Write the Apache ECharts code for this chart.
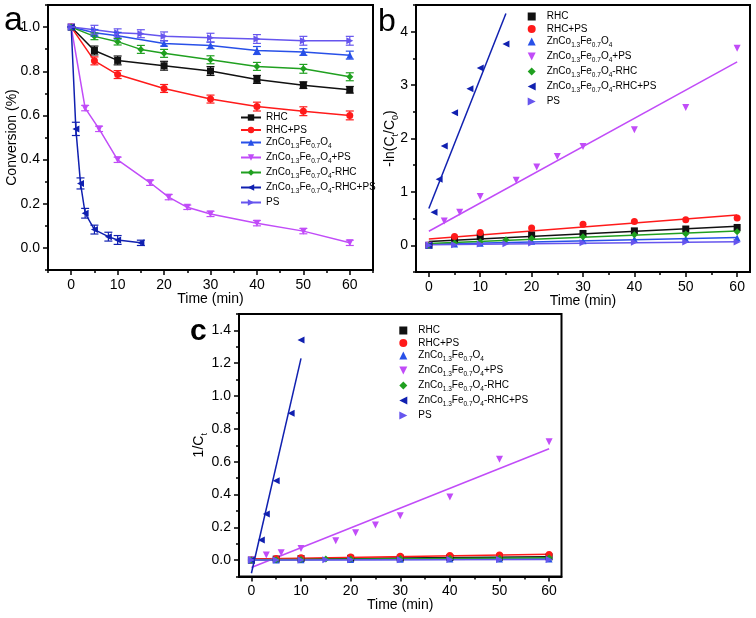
<!DOCTYPE html>
<html><head><meta charset="utf-8">
<script src="https://cdn.jsdelivr.net/npm/echarts@6/dist/echarts.min.js"></script>
<style>html,body{margin:0;padding:0;background:#fff}#chart{width:756px;height:618px}</style>
</head><body><div id="chart"></div>
<script>
// ---------- DATA ----------
const seriesNames = ['RHC','RHC+PS','ZnCo1.3Fe0.7O4','ZnCo1.3Fe0.7O4+PS','ZnCo1.3Fe0.7O4-RHC','ZnCo1.3Fe0.7O4-RHC+PS','PS'];

// sampling times (min)
const tRHC     = [0,5,10,20,30,40,50,60];
const tRHCPS   = [0,5,10,20,30,40,50,60];
const tZn      = [0,5,10,20,30,40,50,60];
const tZnPS    = [0,3,6,10,17,21,25,30,40,50,60];
const tZnRHC   = [0,5,10,15,20,30,40,50,60];
const tZnRHCPS = [0,1,2,3,5,8,10,15];
const tPS      = [0,5,10,15,20,30,40,50,60];
const tC_ZnRHCPS = [0,2,3,5,8,10];

// panel a: conversion C/C0
const convRHC     = [1.0,0.894,0.849,0.825,0.801,0.763,0.737,0.716];
const convRHCPS   = [1.0,0.847,0.785,0.722,0.674,0.640,0.619,0.600];
const convZn      = [1.0,0.974,0.961,0.926,0.917,0.894,0.887,0.873];
const convZnPS    = [1.0,0.633,0.539,0.399,0.295,0.230,0.184,0.154,0.112,0.076,0.023];
const convZnRHC   = [1.0,0.958,0.934,0.899,0.881,0.852,0.822,0.811,0.775];
const convZnRHCPS = [1.0,0.539,0.292,0.157,0.083,0.051,0.036,0.023];
const convPS      = [1.0,0.988,0.974,0.970,0.958,0.952,0.946,0.938,0.938];

// panel a: error bars (+/-)
const errRHC     = [0,0.02,0.02,0.02,0.02,0.018,0.015,0.015];
const errRHCPS   = [0,0.018,0.018,0.018,0.018,0.02,0.02,0.02];
const errZn      = [0,0.015,0.015,0.012,0.015,0.018,0.015,0.018];
const errZnPS    = [0,0.012,0.012,0.012,0.012,0.012,0.01,0.012,0.012,0.012,0.012];
const errZnRHC   = [0,0.015,0.015,0.018,0.018,0.018,0.018,0.02,0.018];
const errZnRHCPS = [0,0.03,0.025,0.022,0.02,0.02,0.02,0.012];
const errPS      = [0,0.02,0.018,0.018,0.02,0.02,0.02,0.02,0.02];

// panel b: -ln(Ct/C0)
const lnRHC     = [0,0.112,0.164,0.192,0.222,0.27,0.305,0.334];
const lnRHCPS   = [0,0.166,0.242,0.326,0.395,0.446,0.48,0.51];
const lnZn      = [0,0.026,0.04,0.077,0.087,0.112,0.12,0.136];
const lnZnPS    = [0,0.457,0.618,0.915,1.22,1.465,1.665,1.85,2.165,2.58,3.69];
const lnZnRHC   = [0,0.043,0.068,0.106,0.127,0.16,0.196,0.21,0.255];
const lnZnRHCPS = [0,0.62,1.235,1.86,2.48,2.93,3.32,3.77];
const lnPS      = [0,0.012,0.026,0.03,0.043,0.049,0.055,0.064,0.064];
// panel b: fitted lines [x0, y0, x1, y1]
const fitB_RHC     = [0,0.073,60,0.356];
const fitB_RHCPS   = [0,0.119,60,0.569];
const fitB_Zn      = [0,0.018,60,0.146];
const fitB_ZnPS    = [0,0.263,60,3.436];
const fitB_ZnRHC   = [0,0.035,60,0.27];
const fitB_ZnRHCPS = [0,0.69,15,4.34];
const fitB_PS      = [0,0.01,60,0.068];

// panel c: 1/Ct
const invRHC     = [0,0.006,0.009,0.011,0.012,0.016,0.018,0.020];
const invRHCPS   = [0,0.009,0.014,0.019,0.024,0.028,0.031,0.034];
const invZn      = [0,0.001,0.002,0.004,0.005,0.006,0.006,0.007];
const invZnPS    = [0,0.031,0.045,0.071,0.118,0.167,0.214,0.271,0.385,0.615,0.721];
const invZnRHC   = [0,0.002,0.004,0.006,0.007,0.009,0.011,0.012,0.015];
const invZnRHCPS = [0,0.122,0.281,0.483,0.895,1.341];
const invPS      = [0,0.001,0.001,0.002,0.002,0.002,0.003,0.003,0.003];
// panel c: fitted lines
const fitC_RHC     = [0,0.005,60,0.021];
const fitC_RHCPS   = [0,0.006,60,0.035];
const fitC_Zn      = [0,0.001,60,0.007];
const fitC_ZnPS    = [0,-0.045,60,0.679];
const fitC_ZnRHC   = [0,0.002,60,0.015];
const fitC_ZnRHCPS = [0,-0.08,10,1.23];
const fitC_PS      = [0,0.0005,60,0.003];

// tick labels
const aXTicks = [0,10,20,30,40,50,60], aXMinor = [-5,5,15,25,35,45,55,65];
const aYTicks = [0,0.2,0.4,0.6,0.8,1.0], aYMinor = [-0.1,0.1,0.3,0.5,0.7,0.9,1.1];
const bXTicks = [0,10,20,30,40,50,60], bXMinor = [5,15,25,35,45,55];
const bYTicks = [0,1,2,3,4], bYMinor = [-0.5,0.5,1.5,2.5,3.5,4.5];
const cXTicks = [0,10,20,30,40,50,60], cXMinor = [5,15,25,35,45,55];
const cYTicks = [0,0.2,0.4,0.6,0.8,1.0,1.2,1.4], cYMinor = [-0.1,0.1,0.3,0.5,0.7,0.9,1.1,1.3,1.5];

// ---------- STYLE ----------
const FONT = "'Liberation Sans', Arial, sans-serif";
const colors  = ['#111111','#ff1a1a','#2850e8','#c14cf8','#20a020','#1020b0','#6655ee'];
const TRI_DOWN = 'path://M0,0L10,0L5,10Z';
const TRI_LEFT = 'path://M10,0L10,10L0,5Z';
const TRI_RIGHT = 'path://M0,0L10,5L0,10Z';
const symbols = ['rect','circle','triangle',TRI_DOWN,'diamond',TRI_LEFT,TRI_RIGHT];

const panelA = [[tRHC,convRHC,errRHC],[tRHCPS,convRHCPS,errRHCPS],[tZn,convZn,errZn],[tZnPS,convZnPS,errZnPS],
                [tZnRHC,convZnRHC,errZnRHC],[tZnRHCPS,convZnRHCPS,errZnRHCPS],[tPS,convPS,errPS]];
const panelB = [[tRHC,lnRHC,fitB_RHC],[tRHCPS,lnRHCPS,fitB_RHCPS],[tZn,lnZn,fitB_Zn],[tZnPS,lnZnPS,fitB_ZnPS],
                [tZnRHC,lnZnRHC,fitB_ZnRHC],[tZnRHCPS,lnZnRHCPS,fitB_ZnRHCPS],[tPS,lnPS,fitB_PS]];
const panelC = [[tRHC,invRHC,fitC_RHC],[tRHCPS,invRHCPS,fitC_RHCPS],[tZn,invZn,fitC_Zn],[tZnPS,invZnPS,fitC_ZnPS],
                [tZnRHC,invZnRHC,fitC_ZnRHC],[tC_ZnRHCPS,invZnRHCPS,fitC_ZnRHCPS],[tPS,invPS,fitC_PS]];

const zip = (t, v) => t.map((x, i) => [x, v[i]]);

function richLabel(n) {
  const base = 'ZnCo1.3Fe0.7O4';
  if (n.startsWith(base)) {
    const rest = n.slice(base.length);
    return '{m|ZnCo}{s|1.3}{m|Fe}{s|0.7}{m|O}{s|4}' + (rest ? '{m|' + rest + '}' : '');
  }
  return '{m|' + n + '}';
}
const legendRich = {
  m: {fontSize: 10, fontFamily: FONT, color: '#000', lineHeight: 12},
  s: {fontSize: 6.5, fontFamily: FONT, color: '#000', lineHeight: 15, verticalAlign: 'bottom'},
  g: {width: 6, fontSize: 10, lineHeight: 12}
};
const nameRich = {
  m: {fontSize: 14, fontFamily: FONT, color: '#000', lineHeight: 20},
  s: {fontSize: 9, fontFamily: FONT, color: '#000', verticalAlign: 'bottom', lineHeight: 20}
};

function xAxes(grid, min, max, ticks, minor, gap) {
  return [
    {gridIndex: grid, type: 'value', min, max, position: 'bottom',
     axisLine: {show: true, onZero: false, lineStyle: {color: '#000', width: 2}},
     axisTick: {show: true, length: 5, customValues: ticks, lineStyle: {color: '#000', width: 1.5}},
     axisLabel: {show: true, customValues: ticks, fontSize: 14, fontFamily: FONT, color: '#000', margin: 8},
     splitLine: {show: false}, name: 'Time (min)', nameLocation: 'middle', nameGap: gap, nameMoveOverlap: false,
     nameTextStyle: {fontSize: 14, fontFamily: FONT, color: '#000', verticalAlign: 'top'}},
    {gridIndex: grid, type: 'value', min, max, position: 'bottom',
     axisLine: {show: false, onZero: false},
     axisTick: {show: true, length: 3, customValues: minor, lineStyle: {color: '#000', width: 1.5}},
     axisLabel: {show: false}, splitLine: {show: false}}
  ];
}
function yAxes(grid, min, max, ticks, minor, fmt, name, gap) {
  return [
    {gridIndex: grid, type: 'value', min, max, position: 'left',
     axisLine: {show: true, onZero: false, lineStyle: {color: '#000', width: 2}},
     axisTick: {show: true, length: 5, customValues: ticks, lineStyle: {color: '#000', width: 1.5}},
     axisLabel: {show: true, customValues: ticks, fontSize: 14, fontFamily: FONT, color: '#000', margin: 8, formatter: fmt},
     splitLine: {show: false}, name, nameLocation: 'middle', nameGap: gap, nameMoveOverlap: false,
     nameTextStyle: {fontSize: 14, fontFamily: FONT, color: '#000', rich: nameRich}},
    {gridIndex: grid, type: 'value', min, max, position: 'left',
     axisLine: {show: false, onZero: false},
     axisTick: {show: true, length: 3, customValues: minor, lineStyle: {color: '#000', width: 1.5}},
     axisLabel: {show: false}, splitLine: {show: false}}
  ];
}

const series = [];
// panel a
panelA.forEach(([t, v, e], i) => {
  series.push({
    type: 'line', name: 'a:' + seriesNames[i], xAxisIndex: 0, yAxisIndex: 0,
    data: zip(t, v), symbol: symbols[i], symbolSize: 7,
    showAllSymbol: true, lineStyle: {width: 1.5, color: colors[i]}, itemStyle: {color: colors[i]}, z: 2
  });
  const c = colors[i];
  series.push({
    type: 'custom', name: 'aerr' + i, xAxisIndex: 0, yAxisIndex: 0,
    encode: {x: 0, y: [1, 2]},
    data: t.map((x, k) => [x, v[k] - e[k], v[k] + e[k]]),
    renderItem: (params, api) => {
      const lo = api.coord([api.value(0), api.value(1)]);
      const hi = api.coord([api.value(0), api.value(2)]);
      const w = 4;
      const st = {stroke: c, lineWidth: 1.2, fill: null};
      return {type: 'group', children: [
        {type: 'line', shape: {x1: lo[0], y1: lo[1], x2: hi[0], y2: hi[1]}, style: st},
        {type: 'line', shape: {x1: lo[0] - w, y1: lo[1], x2: lo[0] + w, y2: lo[1]}, style: st},
        {type: 'line', shape: {x1: hi[0] - w, y1: hi[1], x2: hi[0] + w, y2: hi[1]}, style: st}
      ]};
    }, z: 3
  });
});
// panels b and c
[[panelB, 'b', 2], [panelC, 'c', 4]].forEach(([panel, p, ax]) => {
  panel.forEach(([t, v, f], i) => {
    series.push({
      type: 'line', name: p + 'fit' + i, xAxisIndex: ax, yAxisIndex: ax,
      data: [[f[0], f[1]], [f[2], f[3]]], symbol: 'none',
      lineStyle: {width: 1.5, color: colors[i]}, z: 2
    });
    series.push({
      type: 'scatter', name: p + ':' + seriesNames[i], xAxisIndex: ax, yAxisIndex: ax,
      data: zip(t, v), symbol: symbols[i], symbolSize: 7,
      itemStyle: {color: colors[i], opacity: 1}, z: 3
    });
  });
});

function legend(prefix, left, top, iw, spacer) {
  return {
    orient: 'vertical', left, top, itemGap: 2.5, itemWidth: iw, itemHeight: 8,
    selectedMode: false,
    data: seriesNames.map(n => prefix + ':' + n),
    formatter: name => (spacer ? '{g| }' : '') + richLabel(name.slice(2)),
    textStyle: {rich: legendRich, fontSize: 10, fontFamily: FONT, color: '#000'}
  };
}

const option = {
  animation: false,
  backgroundColor: '#fff',
  grid: [
    {left: 48, top: 5, width: 325, height: 265, show: true, borderColor: '#000', borderWidth: 2, backgroundColor: 'transparent'},
    {left: 416, top: 5, width: 334, height: 267, show: true, borderColor: '#000', borderWidth: 2, backgroundColor: 'transparent'},
    {left: 239, top: 314, width: 322.5, height: 262.5, show: true, borderColor: '#000', borderWidth: 2, backgroundColor: 'transparent'}
  ],
  xAxis: [
    ...xAxes(0, -5, 65, aXTicks, aXMinor, 22),
    ...xAxes(1, -2.5, 62.5, bXTicks, bXMinor, 22),
    ...xAxes(2, -2.5, 62.5, cXTicks, cXMinor, 22)
  ],
  yAxis: [
    ...yAxes(0, -0.1, 1.1, aYTicks, aYMinor, v => v.toFixed(1), '{m|Conversion (%)}', 26),
    ...yAxes(1, -0.5, 4.5, bYTicks, bYMinor, v => String(v), '{m|-ln(C}{s|t}{m|/C}{s|0}{m|)}', 16),
    ...yAxes(2, -0.1, 1.5, cYTicks, cYMinor, v => v.toFixed(1), '{m|1/C}{s|t}', 30)
  ],
  legend: [
    legend('a', 235, 107.5, 20, false),
    legend('b', 522.7, 6.5, 8, true),
    legend('c', 394.3, 320.5, 8, true)
  ],
  graphic: [
    {type: 'text', x: 4, y: 21, style: {text: 'a', font: '34px ' + FONT, fill: '#000', verticalAlign: 'middle'}},
    {type: 'text', x: 378, y: 22, style: {text: 'b', font: '32px ' + FONT, fill: '#000', verticalAlign: 'middle'}},
    {type: 'text', x: 190, y: 332, style: {text: 'c', font: 'bold 30px ' + FONT, fill: '#000', verticalAlign: 'middle'}}
  ],
  series
};
const chart = echarts.init(document.getElementById('chart'), null, {renderer: 'canvas'});
chart.setOption(option);
</script></body></html>
